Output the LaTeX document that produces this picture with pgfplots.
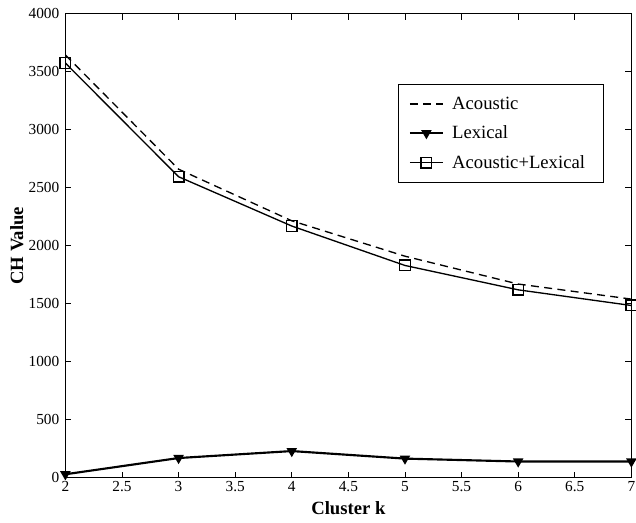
\documentclass[border=0pt]{standalone}
\usepackage{fontspec}
\setmainfont{Liberation Serif}
\usepackage{pgfplots}
\pgfplotsset{compat=1.18}
\begin{document}
\begin{tikzpicture}[x=1pt,y=1pt]
\path[use as bounding box] (0,0) rectangle (477,392.25);
\begin{axis}[
  at={(57.75,39)}, anchor=south west,
  scale only axis, width=424.5pt, height=348pt,
  xmin=2, xmax=7, ymin=0, ymax=4000,
  xtick={2,2.5,...,7}, ytick={0,500,...,4000},
  xticklabels={2,2.5,3,3.5,4,4.5,5,5.5,6,6.5,7},
  yticklabels={0,500,1000,1500,2000,2500,3000,3500,4000},
  tick align=inside, major tick length=4.5pt,
  tick style={black, line width=0.6pt},
  axis line style={line width=0.7pt},
  tick label style={font=\fontsize{11.5}{13}\selectfont},
  xticklabel style={yshift=1pt},
  yticklabel style={xshift=-1pt},
  scaled y ticks=false,
  xlabel={\textbf{Cluster k}}, ylabel={\textbf{CH Value}},
  label style={font=\fontsize{14}{16}\selectfont},
  xlabel style={yshift=-1pt},
  ylabel style={yshift=-3pt},
  legend style={at={(0.587,0.848)}, anchor=north west, draw=black, line width=0.6pt,
    font=\fontsize{14}{17}\selectfont, row sep=7pt, inner xsep=8pt, inner ysep=7pt,
    nodes={inner xsep=6pt}},
  legend cell align=left,
  legend image code/.code={
    \draw[#1] (0pt,0pt) -- (25pt,0pt);
    \draw[#1, draw=none] plot coordinates {(12.5pt,0pt)};
  },
]
\addplot[black, dashed, dash pattern=on 6pt off 4pt, line width=1pt] coordinates {
(2,3645) (3,2660) (4,2215) (5,1910) (6,1670) (7,1540)};
\addlegendentry{Acoustic}
\addplot[black, line width=1.6pt, mark=triangle*, mark options={rotate=180, solid, fill=black}, mark size=3pt] coordinates {
(2,30) (3,170) (4,230) (5,165) (6,140) (7,140)};
\addlegendentry{Lexical}
\addplot[black, line width=1pt, mark=square, mark options={solid, line width=1pt}, mark size=4pt] coordinates {
(2,3575) (3,2595) (4,2170) (5,1830) (6,1620) (7,1485)};
\addlegendentry{Acoustic+Lexical}
\end{axis}
\end{tikzpicture}
\end{document}
